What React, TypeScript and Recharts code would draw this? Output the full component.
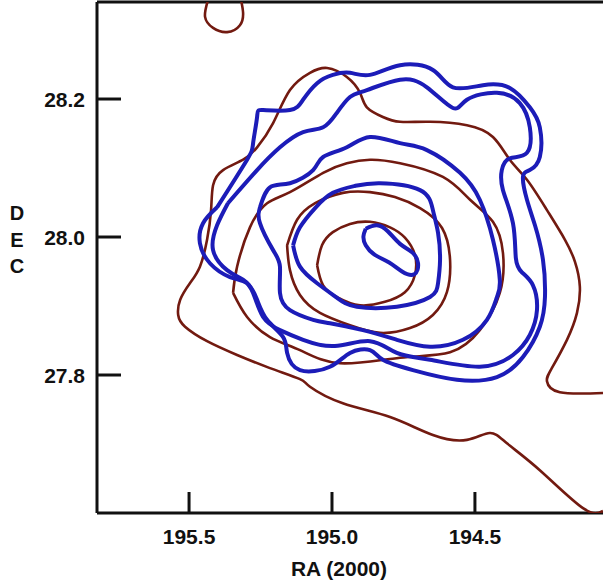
import React from "react";
import { ScatterChart, Scatter, XAxis, YAxis, ReferenceLine, Label } from "recharts";

// contour paths as [RA, DEC] pairs
const brownTopLoop = [
  [195.434, 28.343], [195.444, 28.319], [195.416, 28.303], [195.367, 28.297],
  [195.322, 28.307], [195.311, 28.325], [195.318, 28.343],
];

const brownOuter = [
  [194.052, 27.774], [194.203, 27.775], [194.248, 27.791], [194.231, 27.81],
  [194.178, 27.851], [194.143, 27.89], [194.133, 27.928], [194.15, 27.964],
  [194.185, 27.996], [194.248, 28.039], [194.318, 28.083], [194.378, 28.112],
  [194.437, 28.145], [194.528, 28.162], [194.657, 28.167], [194.762, 28.167],
  [194.822, 28.174], [194.878, 28.188], [194.902, 28.209], [194.948, 28.232],
  [195.017, 28.245], [195.077, 28.238], [195.147, 28.213], [195.206, 28.165],
  [195.262, 28.13], [195.311, 28.112], [195.381, 28.097], [195.416, 28.075],
  [195.423, 28.039], [195.437, 27.996], [195.462, 27.957], [195.497, 27.933],
  [195.531, 27.909], [195.538, 27.887], [195.514, 27.87], [195.437, 27.849],
  [195.332, 27.829], [195.217, 27.81], [195.112, 27.794], [195.077, 27.783],
  [194.962, 27.759], [194.797, 27.739], [194.647, 27.713], [194.528, 27.706],
  [194.448, 27.716], [194.388, 27.701], [194.273, 27.662], [194.122, 27.607],
  [194.052, 27.603],
];

const brownMid = [
  [195.346, 27.919], [195.332, 27.957], [195.287, 28.014], [195.227, 28.049],
  [195.147, 28.065], [195.031, 28.093], [194.948, 28.107], [194.867, 28.112],
  [194.762, 28.107], [194.612, 28.087], [194.517, 28.054], [194.437, 28.022],
  [194.402, 27.977], [194.413, 27.919], [194.483, 27.865], [194.587, 27.833],
  [194.762, 27.825], [194.972, 27.817], [195.112, 27.836], [195.217, 27.855],
  [195.297, 27.884], [195.346, 27.919],
];

const brownInner = [
  [195.157, 27.988], [195.147, 27.952], [195.112, 27.916], [195.042, 27.89],
  [194.937, 27.872], [194.832, 27.861], [194.727, 27.868], [194.647, 27.887],
  [194.598, 27.92], [194.587, 27.967], [194.615, 28.013], [194.692, 28.042],
  [194.78, 28.058], [194.867, 28.065], [194.962, 28.064], [195.059, 28.049],
  [195.122, 28.025], [195.157, 27.988],
];

const brownCore = [
  [195.052, 27.959], [195.035, 27.988], [194.997, 28.007], [194.937, 28.019],
  [194.867, 28.022], [194.797, 28.014], [194.745, 27.999], [194.71, 27.974],
  [194.71, 27.945], [194.745, 27.92], [194.815, 27.906], [194.902, 27.901],
  [194.979, 27.912], [195.031, 27.93], [195.052, 27.959],
];

const blueCore = [
  [194.882, 28.012], [194.843, 28.017], [194.804, 28.008], [194.762, 27.99],
  [194.72, 27.978], [194.699, 27.962], [194.712, 27.946], [194.755, 27.95],
  [194.8, 27.963], [194.85, 27.974], [194.882, 27.988], [194.89, 28.001],
  [194.882, 28.012],
];

const blueInner = [
  [195.136, 27.988], [195.112, 28.014], [195.059, 28.042], [194.997, 28.064],
  [194.92, 28.074], [194.832, 28.078], [194.692, 28.068], [194.647, 28.039],
  [194.629, 28.006], [194.622, 27.967], [194.629, 27.933], [194.657, 27.913],
  [194.773, 27.899], [194.913, 27.899], [194.983, 27.912], [195.052, 27.933],
  [195.112, 27.957], [195.136, 27.988],
];

const blueMid = [
  [195.252, 28.043], [195.217, 28.072], [195.147, 28.078], [195.066, 28.097],
  [195.031, 28.116], [194.948, 28.13], [194.867, 28.145], [194.762, 28.136],
  [194.668, 28.126], [194.552, 28.093], [194.483, 28.054], [194.437, 27.996],
  [194.413, 27.938], [194.423, 27.913], [194.458, 27.88], [194.542, 27.851],
  [194.657, 27.841], [194.773, 27.851], [194.892, 27.865], [195.007, 27.875],
  [195.066, 27.88], [195.147, 27.894], [195.182, 27.919], [195.182, 27.957],
  [195.206, 27.981], [195.252, 28.02], [195.252, 28.043],
];

const blueOuter = [
  [195.364, 28.049], [195.262, 28.097], [195.182, 28.13], [195.101, 28.152],
  [195.031, 28.159], [194.983, 28.18], [194.937, 28.203], [194.878, 28.213],
  [194.762, 28.228], [194.668, 28.217], [194.577, 28.187], [194.528, 28.199],
  [194.423, 28.209], [194.343, 28.194], [194.308, 28.159], [194.318, 28.122],
  [194.378, 28.114], [194.406, 28.097], [194.402, 28.068], [194.367, 28.02],
  [194.357, 27.97], [194.336, 27.949], [194.297, 27.93], [194.283, 27.894],
  [194.308, 27.858], [194.367, 27.829], [194.483, 27.812], [194.657, 27.822],
  [194.773, 27.832], [194.867, 27.849], [194.99, 27.842], [195.101, 27.851],
  [195.182, 27.865], [195.241, 27.884], [195.276, 27.919], [195.311, 27.938],
  [195.367, 27.952], [195.416, 27.981], [195.402, 28.017], [195.364, 28.049],
];

const blueEdge = [
  [195.402, 28.043], [195.297, 28.112], [195.276, 28.136], [195.262, 28.174],
  [195.241, 28.184], [195.147, 28.184], [195.101, 28.199], [195.052, 28.223],
  [194.997, 28.235], [194.937, 28.238], [194.867, 28.235], [194.762, 28.249],
  [194.647, 28.242], [194.577, 28.217], [194.472, 28.22], [194.378, 28.216],
  [194.308, 28.188], [194.273, 28.159], [194.273, 28.116], [194.308, 28.097],
  [194.332, 28.087], [194.318, 28.054], [194.29, 28.017], [194.262, 27.967],
  [194.255, 27.913], [194.273, 27.87], [194.332, 27.826], [194.423, 27.797],
  [194.563, 27.793], [194.717, 27.807], [194.822, 27.822], [194.867, 27.836],
  [194.937, 27.832], [195.007, 27.812], [195.112, 27.807], [195.157, 27.832],
  [195.171, 27.855], [195.227, 27.88], [195.262, 27.909], [195.297, 27.933],
  [195.357, 27.942], [195.427, 27.962], [195.462, 27.991], [195.451, 28.02],
  [195.402, 28.043],
];

const raTicks = [195.5, 195.0, 194.5];
const decTicks = [27.8, 28.0, 28.2];
const raDomain = [194.052, 195.822];
const decDomain = [27.6, 28.3406];

const BROWN = "#721a10";
const BLUE = "#1c1cb8";
const INK = "#111";
const FONT = "'Liberation Sans', Arial, sans-serif";

const contours = [
  { name: "b-top", pts: brownTopLoop, color: BROWN },
  { name: "b-outer", pts: brownOuter, color: BROWN },
  { name: "b-mid", pts: brownMid, color: BROWN },
  { name: "b-inner", pts: brownInner, color: BROWN },
  { name: "b-core", pts: brownCore, color: BROWN },
  { name: "u-edge", pts: blueEdge, color: BLUE },
  { name: "u-outer", pts: blueOuter, color: BLUE },
  { name: "u-mid", pts: blueMid, color: BLUE },
  { name: "u-inner", pts: blueInner, color: BLUE },
  { name: "u-core", pts: blueCore, color: BLUE },
];

const toXY = (pts: number[][]) => pts.map(([x, y]) => ({ x, y }));

const NoDot = () => <g />;

const XTick = (props: any) => {
  const { x, y, payload } = props;
  return (
    <g>
      <line x1={x} x2={x} y1={y} y2={y - 21} stroke={INK} strokeWidth={3} />
      <text x={x} y={y + 31} textAnchor="middle" fill={INK} fontSize={21} fontWeight={700} fontFamily={FONT}>
        {payload.value.toFixed(1)}
      </text>
    </g>
  );
};

const YTick = (props: any) => {
  const { y, payload } = props;
  return (
    <g>
      <line x1={97} x2={121} y1={y} y2={y} stroke={INK} strokeWidth={3} />
      <text x={85} y={y + 7.5} textAnchor="end" fill={INK} fontSize={21} fontWeight={700} fontFamily={FONT}>
        {payload.value.toFixed(1)}
      </text>
    </g>
  );
};

const DecLabel = () => (
  <text x={17} textAnchor="middle" fill={INK} fontSize={20} fontWeight={700} fontFamily={FONT}>
    <tspan x={17} y={220}>D</tspan>
    <tspan x={17} y={247}>E</tspan>
    <tspan x={17} y={273}>C</tspan>
  </text>
);

export default function App() {
  return (
    <div style={{ position: "absolute", left: 0, top: 0, background: "#fff" }}>
      <ScatterChart width={603} height={583} margin={{ top: 2, right: 0, bottom: 0, left: 0 }}>
        <XAxis
          type="number"
          dataKey="x"
          domain={raDomain}
          reversed
          allowDataOverflow
          ticks={raTicks}
          tick={<XTick />}
          tickLine={false}
          tickSize={0}
          tickMargin={0}
          height={70}
          axisLine={{ stroke: INK, strokeWidth: 3 }}
        >
          <Label
            value="RA (2000)"
            position="insideBottom"
            offset={7}
            dx={-11}
            fill={INK}
            fontSize={21}
            fontWeight={700}
            fontFamily={FONT}
          />
        </XAxis>
        <YAxis
          type="number"
          dataKey="y"
          domain={decDomain}
          allowDataOverflow
          ticks={decTicks}
          tick={<YTick />}
          tickLine={false}
          tickSize={0}
          tickMargin={0}
          width={97}
          axisLine={{ stroke: INK, strokeWidth: 3 }}
          label={<DecLabel />}
        />
        <ReferenceLine y={decDomain[1]} stroke={INK} strokeWidth={3} />
        {contours.map((c) => (
          <Scatter
            key={c.name}
            name={c.name}
            data={toXY(c.pts)}
            shape={NoDot}
            line={{ stroke: c.color, strokeWidth: c.color === BLUE ? 4 : 2.6, strokeLinejoin: "round" }}
            lineJointType="natural"
            fill="none"
            legendType="none"
            isAnimationActive={false}
          />
        ))}
      </ScatterChart>
    </div>
  );
}
